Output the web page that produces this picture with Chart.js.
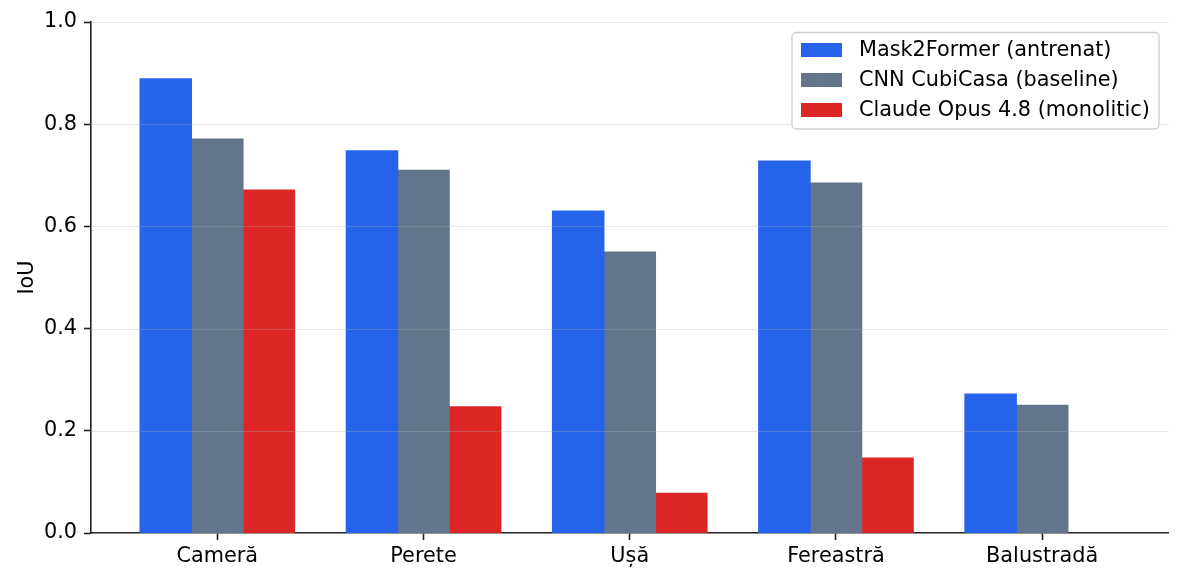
<!DOCTYPE html>
<html>
<head>
<meta charset="utf-8">
<script src="https://cdn.jsdelivr.net/npm/chart.js@4"></script>
<style>
html,body{margin:0;padding:0;background:#fff;}
#wrap{width:1183px;height:584px;position:relative;}
</style>
</head>
<body>
<div id="wrap"><canvas id="c" width="1183" height="584"></canvas></div>
<script>
const categories = ['Cameră', 'Perete', 'Ușă', 'Fereastră', 'Balustradă'];
const seriesNames = ['Mask2Former (antrenat)', 'CNN CubiCasa (baseline)', 'Claude Opus 4.8 (monolitic)'];
const mask2former = [0.889, 0.748, 0.630, 0.728, 0.272];
const cnnCubiCasa = [0.771, 0.710, 0.550, 0.685, 0.250];
const claudeOpus = [0.671, 0.247, 0.078, 0.147, 0.0];
const yTicks = [0.0, 0.2, 0.4, 0.6, 0.8, 1.0];
const colors = ['#2563eb', '#64748b', '#dc2626'];

const FONT = 'DejaVu Sans';
const FS = 20.8;
const toPts = arr => arr.map((v, i) => ({x: i, y: v}));

const gridOnTop = {
  id: 'gridOnTop',
  afterDatasetsDraw(chart) {
    const {ctx, chartArea, scales} = chart;
    ctx.save();
    ctx.strokeStyle = 'rgba(176,176,176,0.3)';
    ctx.lineWidth = 1.2;
    yTicks.forEach(t => {
      if (t === 0) return;
      const y = Math.round(scales.y.getPixelForValue(t)) + 0.5;
      ctx.beginPath();
      ctx.moveTo(chartArea.left, y);
      ctx.lineTo(chartArea.right, y);
      ctx.stroke();
    });
    ctx.restore();
  }
};

const legendBox = {
  id: 'legendBox',
  afterDraw(chart) {
    const ctx = chart.ctx;
    const x0 = 792, y0 = 32.5, w = 367, h = 96.5, r = 4;
    ctx.save();
    ctx.beginPath();
    ctx.roundRect(x0, y0, w, h, r);
    ctx.fillStyle = 'rgba(255,255,255,0.8)';
    ctx.fill();
    ctx.strokeStyle = '#d0d0d0';
    ctx.lineWidth = 1.4;
    ctx.stroke();
    ctx.font = FS + 'px "' + FONT + '"';
    ctx.textBaseline = 'middle';
    ctx.textAlign = 'left';
    seriesNames.forEach((name, i) => {
      const cy = 50 + i * 30;
      ctx.fillStyle = colors[i];
      ctx.fillRect(801, cy - 7, 41, 14);
      ctx.fillStyle = '#000';
      ctx.fillText(name, 859, cy + 1);
    });
    ctx.restore();
  }
};

new Chart(document.getElementById('c'), {
  type: 'bar',
  data: {
    datasets: [mask2former, cnnCubiCasa, claudeOpus].map((arr, i) => ({
      label: seriesNames[i],
      data: toPts(arr),
      backgroundColor: colors[i],
      borderWidth: 0,
      inflateAmount: c => (c.raw && c.raw.y > 0) ? 0.5 : 0,
      categoryPercentage: 0.75,
      barPercentage: 1.0
    }))
  },
  options: {
    responsive: false,
    animation: false,
    devicePixelRatio: 1,
    layout: {padding: {top: 22, right: 14.5, left: 0, bottom: 0}},
    plugins: {legend: {display: false}, tooltip: {enabled: false}},
    scales: {
      x: {
        type: 'linear',
        offset: false,
        min: -0.6125,
        max: 4.6125,
        afterBuildTicks: s => { s.ticks = categories.map((_, i) => ({value: i})); },
        afterFit: s => { s.height = 51; },
        grid: {offset: false, drawOnChartArea: false, drawTicks: true, tickLength: 7, tickColor: '#222', tickWidth: 1.6},
        border: {display: true, color: '#222', width: 1.6},
        ticks: {
          autoSkip: false,
          maxRotation: 0,
          padding: 4,
          color: '#000',
          font: {family: FONT, size: FS},
          callback: v => categories[v] ?? ''
        }
      },
      y: {
        min: 0,
        max: 1,
        afterBuildTicks: s => { s.ticks = yTicks.map(v => ({value: v})); },
        afterFit: s => { s.width = 91; },
        grid: {drawOnChartArea: false, drawTicks: true, tickLength: 7, tickColor: '#222', tickWidth: 1.6},
        border: {display: true, color: '#222', width: 1.6},
        ticks: {
          padding: 7,
          color: '#000',
          font: {family: FONT, size: FS},
          callback: v => Number(v).toFixed(1)
        },
        title: {
          display: true,
          text: 'IoU',
          color: '#000',
          font: {family: FONT, size: FS},
          padding: {top: 15, bottom: 0}
        }
      }
    }
  },
  plugins: [gridOnTop, legendBox]
});
</script>
</body>
</html>
